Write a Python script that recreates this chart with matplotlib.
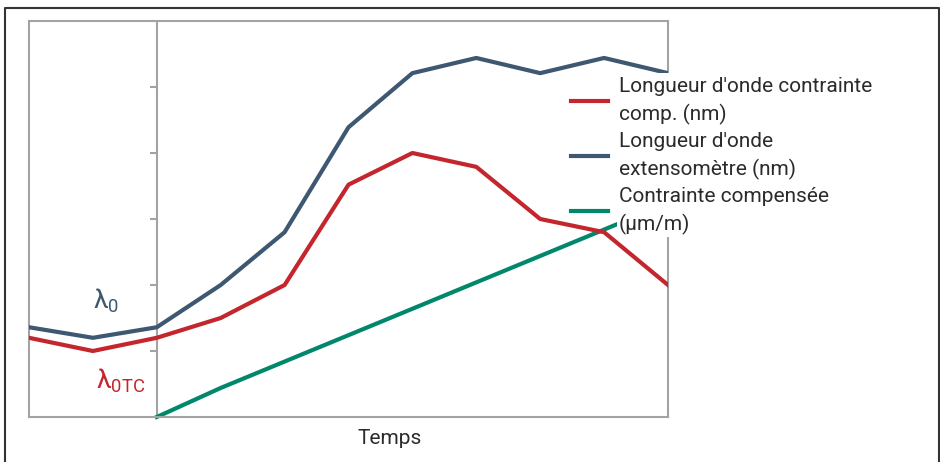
import matplotlib.pyplot as plt
from matplotlib.lines import Line2D
from matplotlib.patches import Rectangle

plt.rcParams['font.family'] = ['Roboto', 'DejaVu Sans']
plt.rcParams['mathtext.fontset'] = 'custom'
plt.rcParams['mathtext.rm'] = 'Liberation Sans'

# data (y axis 0..6, x = time steps)
temps = [0, 1, 2, 3, 4, 5, 6, 7, 8, 9, 10]
lambda_comp = [1.20, 1.00, 1.20, 1.50, 2.00, 3.52, 4.00, 3.79, 3.00, 2.80, 2.00]
lambda_ext = [1.36, 1.20, 1.36, 2.00, 2.80, 4.39, 5.21, 5.44, 5.21, 5.44, 5.21]
temps_comp = [2, 3, 4, 5, 6, 7, 8, 9, 10]
contrainte = [0.00, 0.44, 0.84, 1.24, 1.64, 2.04, 2.44, 2.84, 3.24]
tick_vals = [1, 2, 3, 4, 5]
labels = ["Longueur d'onde contrainte\ncomp. (nm)",
          "Longueur d'onde\nextensomètre (nm)",
          "Contrainte compensée\n(µm/m)"]

red = '#c4262e'
blue = '#3e5871'
green = '#00876c'
grey = '#a3a3a3'

fig = plt.figure(figsize=(9.4, 4.62), dpi=100)
ax = fig.add_axes([29 / 940, 1 - 417 / 462, 639 / 940, 396 / 462])
ax.set_xlim(0, 10)
ax.set_ylim(0, 6)
ax.set_xticks([])
ax.set_yticks([])
for s in ax.spines.values():
    s.set_color(grey)
    s.set_linewidth(1.5)

ax.axvline(2, color=grey, lw=1.5, zorder=1)
ax.plot([2] * len(tick_vals), tick_vals, ls='none', marker=0, ms=5,
        mew=1.5, color=grey, zorder=1)

ax.plot(temps, lambda_comp, color=red, lw=3, label=labels[0], zorder=3)
ax.plot(temps, lambda_ext, color=blue, lw=3, label=labels[1], zorder=3)
ax.plot(temps_comp, contrainte, color=green, lw=3, label=labels[2],
        zorder=2, clip_on=False)

ax.text(1.2, 1.76, r'$\mathregular{λ_0}$', color=blue, fontsize=19,
        ha='center', va='center')
ax.text(1.43, 0.55, r'$\mathregular{λ_{0TC}}$', color=red, fontsize=19,
        ha='center', va='center')

# white block behind the legend text (hides the right spine there)
ax.add_patch(Rectangle((617 / 940, 1 - 237 / 462), 70 / 940, 164 / 462,
                       transform=fig.transFigure, facecolor='white',
                       edgecolor='none', zorder=4, clip_on=False))

leg = ax.legend(loc='upper left', bbox_to_anchor=(567 / 940, 1 - 73 / 462),
                bbox_transform=fig.transFigure, fontsize=15, frameon=False,
                handlelength=1.75, handletextpad=0.55,
                borderpad=0.2, labelspacing=0.35, borderaxespad=0)
for t in leg.get_texts():
    t.set_color('#2b2b2b')
    t.set_linespacing(1.46)
leg.set_zorder(5)

fig.text(390 / 940, 1 - 438 / 462, 'Temps', fontsize=15, color='#2b2b2b',
         ha='center', va='center')

# outer frame (left, top, right)
fig.add_artist(Line2D([4.5 / 940, 4.5 / 940, 938.5 / 940, 938.5 / 940],
                      [0, 1 - 7.5 / 462, 1 - 7.5 / 462, 0],
                      transform=fig.transFigure, color='#333333', lw=1.5))

fig.savefig('out.png', dpi=100)
